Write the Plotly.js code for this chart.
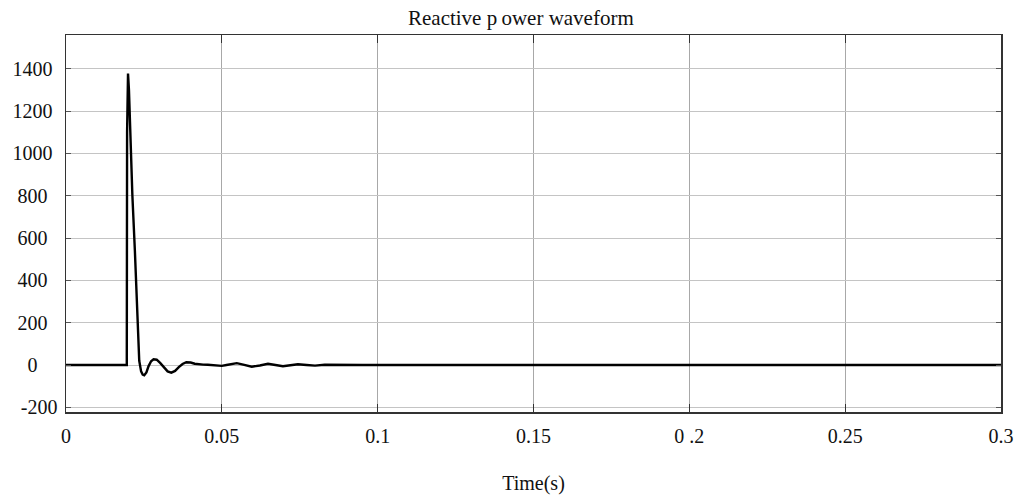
<!DOCTYPE html>
<html>
<head>
<meta charset="utf-8">
<script src="https://cdn.plot.ly/plotly-3.0.1.min.js"></script>
<style>html,body{margin:0;padding:0;background:#fff;}#chart{width:1014px;height:498px;}</style>
</head>
<body>
<div id="chart"></div>
<script>
// Time (s)
var timeS = [0, 0.0195, 0.0196, 0.0197, 0.0199, 0.0202, 0.0206, 0.0213, 0.0221, 0.0228, 0.0235, 0.0241, 0.0246, 0.0251, 0.0258, 0.0265, 0.0273, 0.0281, 0.0291, 0.0302, 0.0314, 0.0326, 0.0338, 0.0350, 0.0362, 0.0374, 0.0386, 0.0400, 0.0413, 0.0426, 0.0440, 0.0455, 0.0470, 0.0485, 0.0500, 0.0515, 0.0530, 0.0548, 0.0572, 0.0596, 0.0622, 0.0648, 0.0672, 0.0696, 0.0720, 0.0744, 0.0772, 0.0799, 0.0830, 0.0870, 0.0950, 0.3];
// Reactive power
var reactivePower = [0, 0, 1100, 1340, 1378, 1300, 1070, 800, 540, 270, 20, -30, -45, -48, -35, -5, 18, 27, 25, 10, -12, -30, -36, -28, -10, 5, 13, 12, 6, 3, 2, 1, -1, -3, -4, 0, 5, 9, 1, -8, -2, 6, 0, -6, -1, 4, 0, -3, 1, 0, 0, 0];
var xTickVals = [0, 0.05, 0.1, 0.15, 0.2, 0.25, 0.3];
var xTickText = ["0", "0.05", "0.1", "0.15", "0 .2", "0.25", "0.3"];
var yTickVals = [-200, 0, 200, 400, 600, 800, 1000, 1200, 1400];
var yTickText = ["-200", "0\u00a0\u00a0\u00a0\u00a0", "200\u00a0\u00a0", "400\u00a0\u00a0", "600\u00a0\u00a0", "800\u00a0\u00a0", "1000\u00a0", "1200\u00a0", "1400\u00a0"];

var font = "Liberation Serif, Times New Roman, serif";
var trace = {
  x: timeS, y: reactivePower, type: "scatter", mode: "lines",
  line: {color: "#000", width: 2.4}, hoverinfo: "skip"
};
var layout = {
  width: 1014, height: 498,
  margin: {l: 66, r: 13, t: 35, b: 86},
  paper_bgcolor: "#fff", plot_bgcolor: "#fff",
  showlegend: false,
  font: {family: font, size: 20, color: "#111"},
  title: {text: "Reactive p\u2009ower waveform", font: {family: font, size: 21, color: "#111"},
          x: 0.4865, xref: "paper", xanchor: "center", y: 1 - 18/498, yref: "container", yanchor: "middle"},
  xaxis: {
    range: [0, 0.3], tickmode: "array", tickvals: xTickVals, ticktext: xTickText,
    showgrid: true, gridcolor: "#a8a8a8", gridwidth: 1,
    showline: true, linecolor: "#333", linewidth: 1.5, mirror: "ticks",
    ticks: "inside", ticklen: 8, tickcolor: "#333", tickwidth: 1,
    zeroline: false, ticklabelstandoff: 5,
    title: {text: "Time(s)", font: {family: font, size: 20, color: "#111"}, standoff: 30}
  },
  yaxis: {
    range: [-222, 1560], tickmode: "array", tickvals: yTickVals, ticktext: yTickText,
    showgrid: true, gridcolor: "#c4c4c4", gridwidth: 1,
    showline: true, linecolor: "#333", linewidth: 1.5, mirror: "ticks",
    ticks: "inside", ticklen: 5, tickcolor: "#555", tickwidth: 1,
    zeroline: false, ticklabelstandoff: 3
  }
};
Plotly.newPlot("chart", [trace], layout, {staticPlot: true, displayModeBar: false});
</script>
</body>
</html>
